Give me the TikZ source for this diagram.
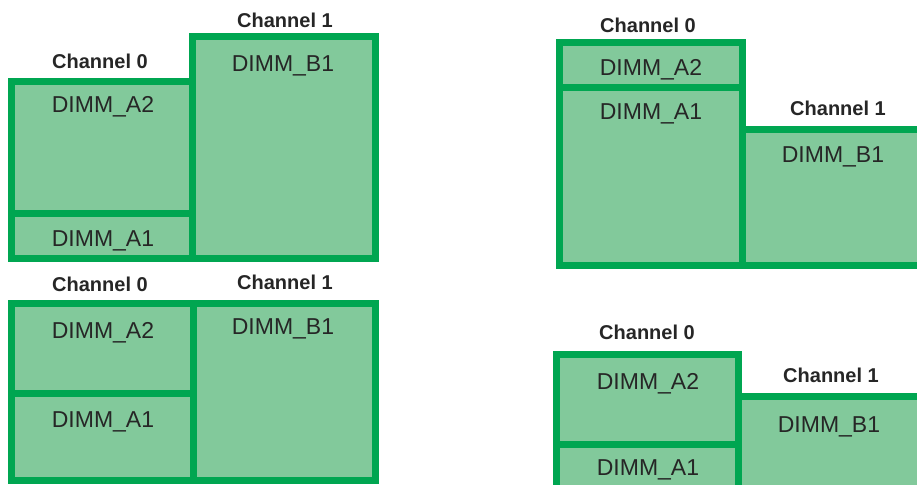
\documentclass[tikz,border=0pt]{standalone}
\usepackage{fontspec}
\setmainfont{Liberation Sans}
\usepackage{tikz}
\definecolor{dimmline}{RGB}{0,166,81}
\definecolor{dimmfill}{RGB}{130,201,155}
\tikzset{
	dimm/.style={draw=dimmline, fill=dimmfill, line width=7pt},
	slot/.style={anchor=base, text=black!85, font=\fontsize{23}{27}\selectfont},
	chan/.style={anchor=base, text=black!85, font=\bfseries\fontsize{20}{24}\selectfont}
}
\begin{document}
\begin{tikzpicture}[x=1pt, y=-1pt]
				\useasboundingbox (0,0) rectangle (917,484);
				\clip (0,0) rectangle (917,484);
				
				% top left
				\draw[dimm] (11.5,81.5) rectangle (192.5,213.5);
				\draw[dimm] (11.5,213.5) rectangle (192.5,258.5);
				\draw[dimm] (192.5,37) rectangle (375.5,258.5);
				\node[chan] (c0a) at (100,69) {Channel 0};
				\node[chan] (c1a) at (285,28) {Channel 1};
				\node[slot] (a2a) at (103,113) {DIMM\_A2};
				\node[slot] (a1a) at (103,246) {DIMM\_A1};
				\node[slot] (b1a) at (283,72) {DIMM\_B1};
				
				% top right
				\draw[dimm] (559.5,43) rectangle (742.5,87.5);
				\draw[dimm] (559.5,87.5) rectangle (742.5,265);
				\draw[dimm] (742.5,129) rectangle (925,265);
				\node[chan] (c0b) at (648,33) {Channel 0};
				\node[chan] (c1b) at (838,116) {Channel 1};
				\node[slot] (a2b) at (651,76) {DIMM\_A2};
				\node[slot] (a1b) at (651,119) {DIMM\_A1};
				\node[slot] (b1b) at (833,162) {DIMM\_B1};
				
				% bottom left
				\draw[dimm] (11.5,303) rectangle (193.5,393);
				\draw[dimm] (11.5,393) rectangle (193.5,480.5);
				\draw[dimm] (193.5,303) rectangle (375.5,480.5);
				\node[chan] (c0c) at (100,291) {Channel 0};
				\node[chan] (c1c) at (285,289) {Channel 1};
				\node[slot] (a2c) at (103,338) {DIMM\_A2};
				\node[slot] (a1c) at (103,427) {DIMM\_A1};
				\node[slot] (b1c) at (283,334) {DIMM\_B1};
				
				% bottom right
				\draw[dimm] (556.5,354.5) rectangle (738.5,444.5);
				\draw[dimm] (556.5,444.5) rectangle (738.5,495);
				\draw[dimm] (738.5,396.5) rectangle (925,495);
				\node[chan] (c0d) at (647,339) {Channel 0};
				\node[chan] (c1d) at (831,382) {Channel 1};
				\node[slot] (a2d) at (648,389) {DIMM\_A2};
				\node[slot] (a1d) at (648,475) {DIMM\_A1};
				\node[slot] (b1d) at (829,432) {DIMM\_B1};
			\end{tikzpicture}
\end{document}
